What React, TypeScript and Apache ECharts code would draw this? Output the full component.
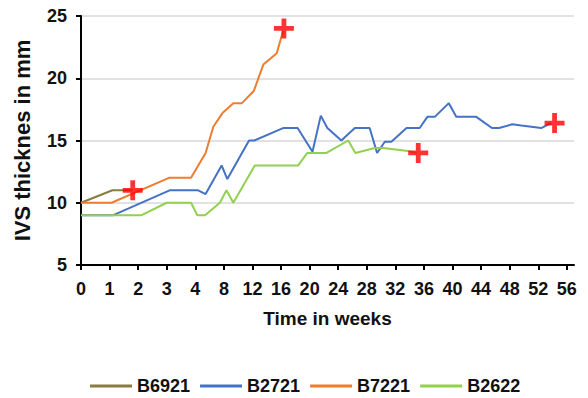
import React, { useEffect, useRef } from "react";
import * as echarts from "echarts";

// x positions are in axis-slot units: slots 0..4 = weeks 0..4, slots 5..17 = weeks 8..56
const tickLabels = ["0", "1", "2", "3", "4", "8", "12", "16", "20", "24", "28", "32", "36", "40", "44", "48", "52", "56"];
const tickSlots = tickLabels.map((_, i) => i);

const seriesNames = ["B6921", "B2721", "B7221", "B2622"];
const seriesColors = ["#8a7b40", "#4472c4", "#ed7d31", "#92d050"];

const b6921 = [[0, 10], [1.1, 11], [1.8, 11]];
const b2721 = [
  [0, 9], [1.13, 9], [3.1, 11], [4.1, 11], [4.36, 10.7], [4.92, 13], [5.12, 11.9], [5.88, 15], [6.06, 15],
  [7.07, 16], [7.58, 16], [8.1, 14.1], [8.39, 17], [8.62, 16], [9.11, 15], [9.58, 16], [10.1, 16],
  [10.36, 14], [10.63, 14.9], [10.86, 14.9], [11.39, 16], [11.85, 16], [12.12, 16.9], [12.38, 16.9],
  [12.87, 18], [13.13, 16.9], [13.83, 16.9], [14.38, 16], [14.63, 16], [15.09, 16.3], [15.41, 16.2],
  [16.1, 16], [16.45, 16.4],
];
const b7221 = [
  [0, 10], [1.07, 10], [3.08, 12], [3.85, 12], [4.36, 14], [4.63, 16.1], [4.95, 17.2], [5.33, 18],
  [5.63, 18], [6.05, 19], [6.38, 21.1], [6.85, 22], [7.07, 23.8],
];
const b2622 = [
  [0, 9], [2.12, 9], [3.0, 10], [3.85, 10], [4.07, 9], [4.34, 9], [4.86, 10], [5.09, 11], [5.33, 10],
  [6.08, 13], [7.6, 13], [7.92, 14], [8.59, 14], [9.35, 15], [9.6, 14], [10.28, 14.4], [10.57, 14.4],
  [11.44, 14.15], [11.75, 14],
];
const deathMarks = [[1.81, 11], [7.1, 24], [11.8, 14], [16.57, 16.4]];

const seriesData = [b6921, b2721, b7221, b2622];

const FONT = "'Liberation Sans', Arial, sans-serif";
const CROSS = "path://M3.8,0H6.2V3.8H10V6.2H6.2V10H3.8V6.2H0V3.8H3.8Z";

export default function App() {
  const ref = useRef<HTMLDivElement>(null);
  useEffect(() => {
    if (!ref.current) return;
    const chart = echarts.init(ref.current, undefined, { renderer: "svg" });
    const lines = seriesNames.map((name, i) => ({
      name,
      type: "line",
      data: seriesData[i],
      showSymbol: false,
      symbol: "none",
      lineStyle: { color: seriesColors[i], width: 2 },
      itemStyle: { color: seriesColors[i] },
      z: 2 + i,
    }));
    chart.setOption({
      animation: false,
      backgroundColor: "#ffffff",
      textStyle: { fontFamily: FONT },
      grid: { left: 81, right: 14, top: 16, bottom: 133, outerBoundsMode: "none", containLabel: false },
      legend: {
        data: seriesNames,
        left: 85,
        top: 372,
        icon: "rect",
        itemWidth: 42,
        itemHeight: 3,
        itemGap: 10,
        textStyle: { fontFamily: FONT, fontWeight: "bold", fontSize: 18, color: "#111" },
      },
      xAxis: {
        type: "value",
        min: 0,
        max: 17.25,
        name: "Time in weeks",
        nameLocation: "middle",
        nameGap: 44,
        nameTextStyle: { fontFamily: FONT, fontWeight: "bold", fontSize: 19, color: "#111" },
        axisLine: { show: true, lineStyle: { color: "#000", width: 2 } },
        axisTick: { show: true, customValues: tickSlots, length: 5, lineStyle: { color: "#000", width: 2 } },
        axisLabel: {
          customValues: tickSlots,
          formatter: (v: number) => tickLabels[Math.round(v)] ?? "",
          margin: 15,
          fontFamily: FONT,
          fontWeight: "bold",
          fontSize: 18,
          color: "#111",
        },
        splitLine: { show: false },
      },
      yAxis: {
        type: "value",
        min: 5,
        max: 25,
        interval: 5,
        name: "IVS thicknes in mm",
        nameLocation: "middle",
        nameGap: 48,
        nameTextStyle: { fontFamily: FONT, fontWeight: "bold", fontSize: 22, color: "#111" },
        axisLine: { show: true, lineStyle: { color: "#000", width: 2 } },
        axisTick: { show: true, length: 5, lineStyle: { color: "#000", width: 2 } },
        axisLabel: { margin: 14, fontFamily: FONT, fontWeight: "bold", fontSize: 18, color: "#111" },
        splitLine: { show: true, lineStyle: { color: "#d9d9d9", width: 1.5 } },
      },
      series: [
        ...lines,
        {
          name: "deaths",
          type: "scatter",
          data: deathMarks,
          symbol: CROSS,
          symbolSize: 20,
          itemStyle: { color: "#ff0000" },
          z: 10,
        },
      ],
    });
    return () => chart.dispose();
  }, []);
  return <div ref={ref} style={{ position: "fixed", left: 0, top: 0, width: 588, height: 398 }} />;
}
